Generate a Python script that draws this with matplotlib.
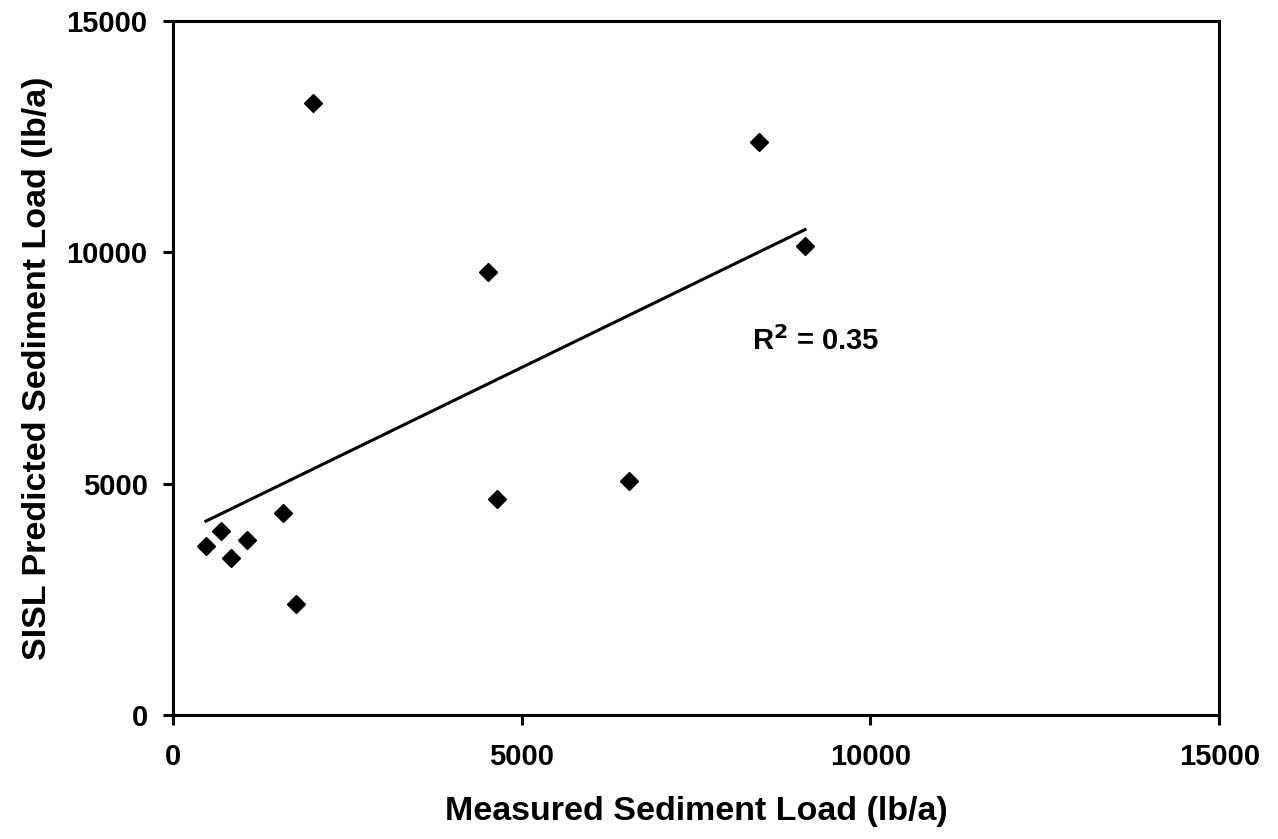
import matplotlib
matplotlib.use("Agg")
import matplotlib.pyplot as plt
import numpy as np

# measured vs predicted sediment load (lb/a)
measured = [477, 692, 840, 1064, 1576, 1762, 2010, 4521, 4646, 6547, 8410, 9063]
predicted = [3652, 3975, 3386, 3782, 4363, 2404, 13216, 9578, 4656, 5057, 12376, 10138]
ticks = [0, 5000, 10000, 15000]

plt.rcParams["font.family"] = ["Liberation Sans", "DejaVu Sans"]
plt.rcParams["font.weight"] = "bold"

fig = plt.figure(figsize=(12.78, 8.39), dpi=100)
ax = fig.add_axes([0.1351, 0.1478, 0.954 - 0.1351, 0.9753 - 0.1478])

x = np.array(measured)
y = np.array(predicted)
ax.plot(x, y, "D", color="black", markersize=9, linestyle="none")

# linear trendline
slope, icpt = np.polyfit(x, y, 1)
xs = np.array([x.min(), x.max()])
ax.plot(xs, slope * xs + icpt, color="black", linewidth=2.2)

ax.text(8300, 8070, "R$^2$ = 0.35", fontsize=21, fontweight="bold", va="center")

ax.set_xlim(0, 15000)
ax.set_ylim(0, 15000)
ax.set_xticks(ticks)
ax.set_yticks(ticks)
ax.tick_params(direction="out", length=7, width=2.2, labelsize=21, pad=13)
ax.tick_params(axis="y", pad=11)
for lab in ax.get_xticklabels() + ax.get_yticklabels():
    lab.set_fontweight("bold")
for s in ax.spines.values():
    s.set_linewidth(2.2)

ax.set_xlabel("Measured Sediment Load (lb/a)", fontsize=24.5, fontweight="bold", labelpad=18)
ax.set_ylabel("SISL Predicted Sediment Load (lb/a)", fontsize=24.5, fontweight="bold", labelpad=10)

fig.savefig("out.png", dpi=100)
